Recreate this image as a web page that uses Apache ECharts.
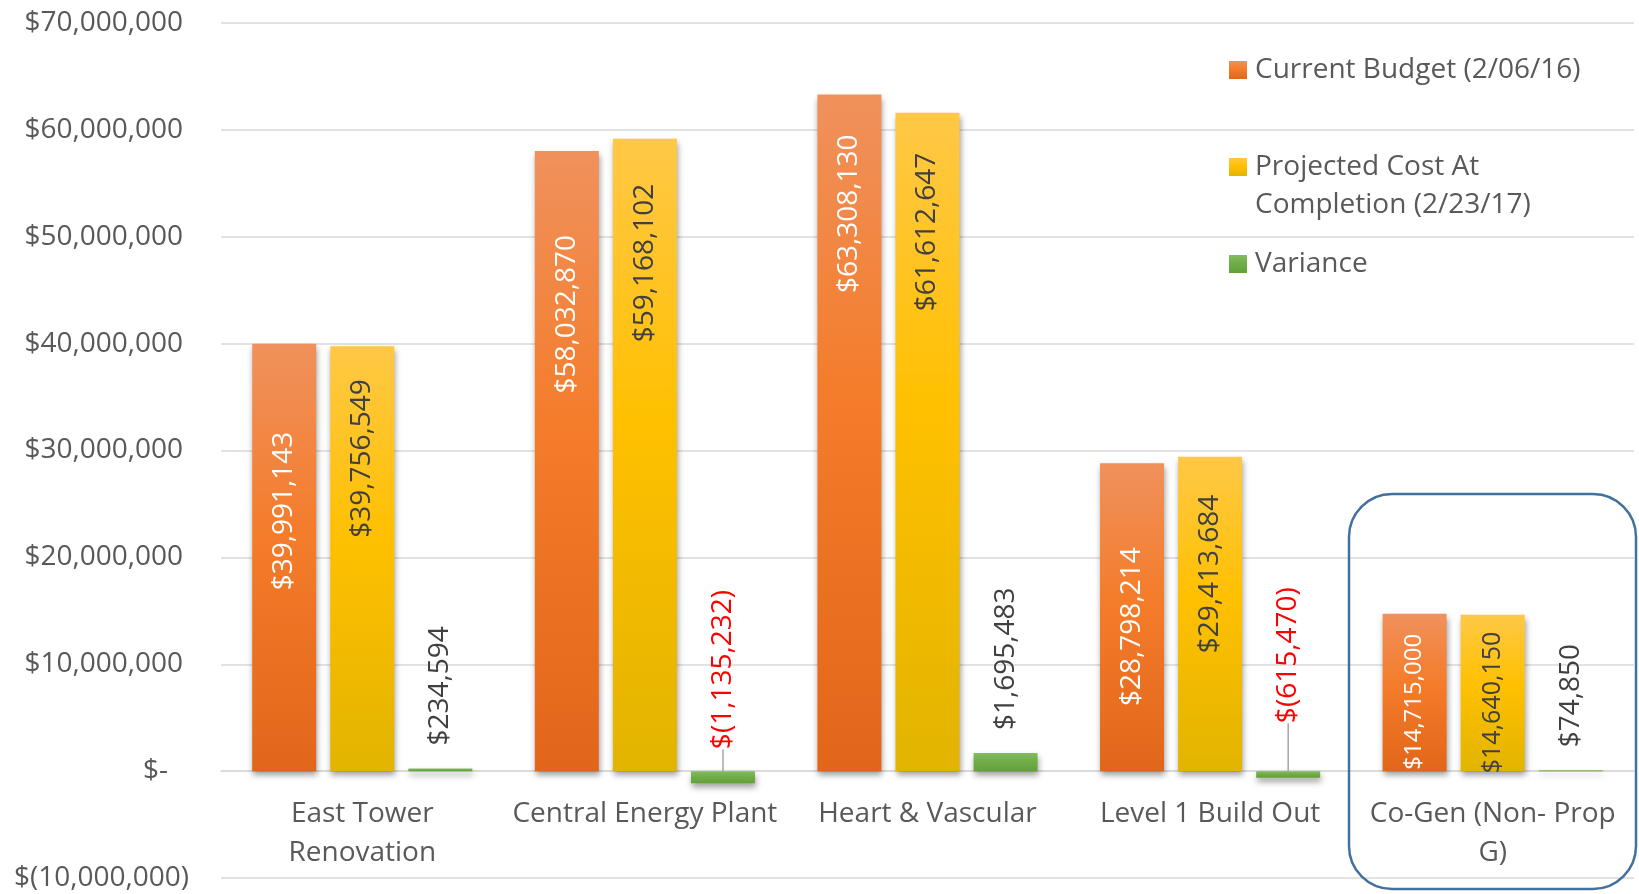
<!DOCTYPE html>
<html><head><meta charset="utf-8">
<script src="https://cdn.jsdelivr.net/npm/echarts@6/dist/echarts.min.js"></script>
<style>html,body{margin:0;padding:0;background:#fff}#c{width:1639px;height:894px}</style>
</head><body><div id="c"></div>
<script>
// ---- data ----
const categories = ['East Tower\nRenovation', 'Central Energy Plant', 'Heart & Vascular', 'Level 1 Build Out', 'Co-Gen (Non- Prop\nG)'];
const seriesNames = ['Current Budget (2/06/16)', 'Projected Cost At Completion (2/23/17)', 'Variance'];
const currentBudget = [39991143, 58032870, 63308130, 28798214, 14715000];
const projectedCost = [39756549, 59168102, 61612647, 29413684, 14640150];
const variance = [234594, -1135232, 1695483, -615470, 74850];
const yMin = -10000000, yMax = 70000000, yInterval = 10000000;

// ---- style-only arrays (label placement) ----
const budgetLabelInset = [88, 84, 40, 84, 20];
const projectedLabelInset = [33, 45, 40, 38, 17];
const varianceLabelGap = [23, 22, 23, 48, 23];
const budgetLabelSize = [28, 28, 28, 28, 24];
const projectedLabelSize = [28, 28, 28, 28, 25];

const FONT = "'Open Sans', 'DejaVu Sans', sans-serif";
function money(v) {
  if (v === 0) return '$-';
  const s = Math.abs(v).toLocaleString('en-US');
  return v < 0 ? '$(' + s + ')' : '$' + s;
}
function grad(c0, c1, c2) {
  return new echarts.graphic.LinearGradient(0, 0, 0, 1, [
    {offset: 0, color: c0}, {offset: 0.45, color: c1}, {offset: 1, color: c2}]);
}
const shadow = {shadowColor: 'rgba(0,0,0,0.38)', shadowBlur: 6, shadowOffsetY: 4, shadowOffsetX: 1};

const budgetData = currentBudget.map((v, i) => ({
  value: v, label: {distance: budgetLabelInset[i], fontSize: budgetLabelSize[i]}
}));
const projectedData = projectedCost.map((v, i) => ({
  value: v, label: {distance: projectedLabelInset[i], fontSize: projectedLabelSize[i]}
}));
const varianceData = variance.map((v, i) => {
  const d = {value: v, label: {distance: varianceLabelGap[i], color: v < 0 ? '#FF0000' : '#404040'}};
  if (v < 0) d.labelLine = {show: true, lineStyle: {color: '#A6A6A6', width: 1.5}};
  return d;
});

const insideLabel = {
  show: true, position: 'insideTop', rotate: 90, align: 'right', verticalAlign: 'middle',
  fontFamily: FONT, fontSize: 28, formatter: p => money(p.value)
};

const legendBase = {
  left: 1229, padding: 0, itemWidth: 18, itemHeight: 18, icon: 'rect', selectedMode: false,
  textStyle: {fontFamily: FONT, fontSize: 28, color: '#595959', padding: [0, 0, 0, 3]}
};

const chart = echarts.init(document.getElementById('c'));
chart.setOption({
  animation: false,
  backgroundColor: '#fff',
  grid: {left: 221, right: 5, top: 23, bottom: 16, containLabel: false, outerBoundsMode: 'none'},
  legend: [
    Object.assign({}, legendBase, {data: [seriesNames[0]], top: 56}),
    Object.assign({}, legendBase, {
      data: [seriesNames[1]], top: 110,
      formatter: n => '\n' + n.replace(' At ', ' At\n'),
      textStyle: {fontFamily: FONT, fontSize: 28, color: '#595959', lineHeight: 38, padding: [0, 0, 0, 3]}
    }),
    Object.assign({}, legendBase, {data: [seriesNames[2]], top: 250})
  ],
  xAxis: {
    type: 'category', data: categories,
    offset: -107,
    axisLine: {onZero: false, lineStyle: {color: '#D9D9D9', width: 1.5}},
    axisTick: {show: false},
    axisLabel: {interval: 0, margin: 24, fontFamily: FONT, fontSize: 28, lineHeight: 39, color: '#595959'}
  },
  yAxis: {
    type: 'value', min: yMin, max: yMax, interval: yInterval,
    axisLine: {show: false}, axisTick: {show: false},
    splitLine: {lineStyle: {color: '#D9D9D9', width: 1.5}},
    axisLabel: {
      margin: 32, color: '#595959', fontFamily: FONT, fontSize: 28,
      formatter: v => v === 0 ? '{z|$-}' : (v < 0 ? '{n|' + money(v) + '}' : '{p|' + money(v) + '}'),
      rich: {
        p: {fontFamily: FONT, fontSize: 28, color: '#595959', padding: [0, 6, 0, 0]},
        n: {fontFamily: FONT, fontSize: 28, color: '#595959'},
        z: {fontFamily: FONT, fontSize: 28, color: '#595959', padding: [0, 21, 0, 0]}
      }
    }
  },
  series: [
    {
      name: seriesNames[0], type: 'bar', data: budgetData, barWidth: 64, barGap: '22%',
      itemStyle: Object.assign({color: grad('#F0915C', '#F47C2A', '#E2661A')}, shadow),
      label: Object.assign({}, insideLabel, {color: '#FFFFFF'})
    },
    {
      name: seriesNames[1], type: 'bar', data: projectedData, barWidth: 64, barGap: '22%',
      itemStyle: Object.assign({color: grad('#FFC846', '#FFC000', '#E2B400')}, shadow),
      label: Object.assign({}, insideLabel, {color: '#404040'})
    },
    {
      name: seriesNames[2], type: 'bar', data: varianceData, barWidth: 64, barGap: '22%',
      itemStyle: Object.assign({color: grad('#85BC64', '#70AD47', '#62A13A')}, shadow),
      label: {
        show: true, position: 'top', rotate: 90, align: 'left', verticalAlign: 'middle',
        fontFamily: FONT, fontSize: 28, formatter: p => money(p.value)
      }
    }
  ],
  graphic: [{
    type: 'rect', z: 100, silent: true,
    shape: {x: 1349, y: 494, width: 287, height: 395, r: 43},
    style: {fill: 'none', stroke: '#41719C', lineWidth: 2.5}
  }]
});
</script></body></html>
